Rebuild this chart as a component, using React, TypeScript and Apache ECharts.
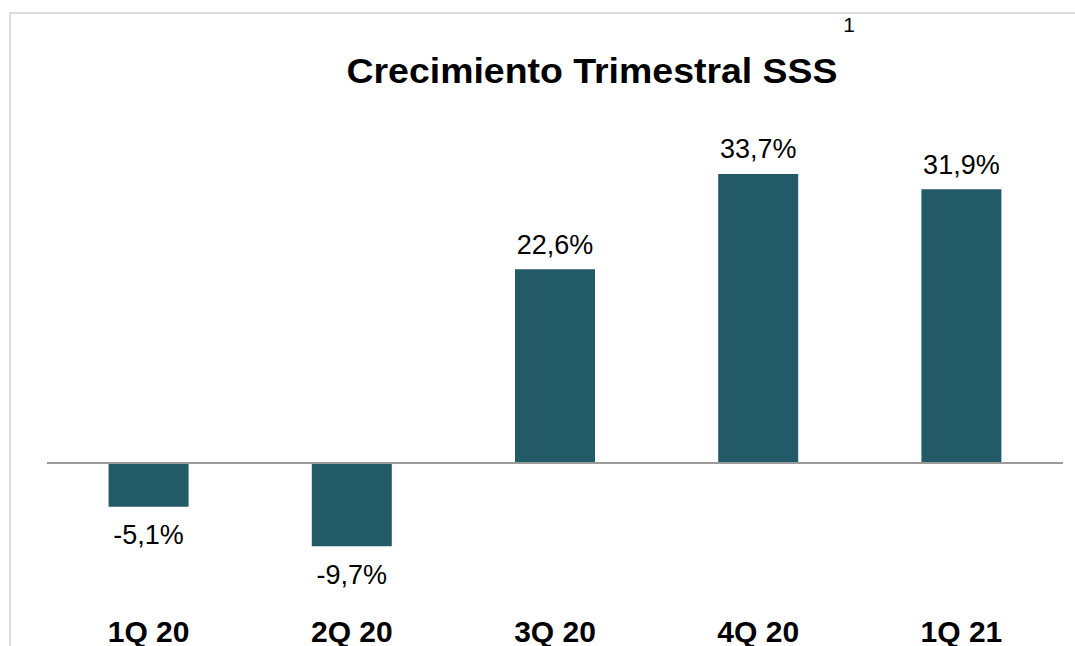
import React, { useEffect, useRef } from "react";
import * as echarts from "echarts";

const categories = ["1Q 20", "2Q 20", "3Q 20", "4Q 20", "1Q 21"];
const sssGrowth = [-5.1, -9.7, 22.6, 33.7, 31.9];
const chartTitle = "Crecimiento Trimestral SSS";
const footnoteMark = "1";

const FONT = '"Liberation Sans", Arial, sans-serif';
const BAR_COLOR = "#235a68";

export default function App() {
  const ref = useRef<HTMLDivElement>(null);

  useEffect(() => {
    if (!ref.current) return;
    const chart = echarts.init(ref.current, null, { renderer: "svg" });
    const fmt = (v: number) => v.toFixed(1).replace(".", ",") + "%";
    chart.setOption({
      animation: false,
      backgroundColor: "#ffffff",
      textStyle: { fontFamily: FONT },
      grid: { left: 47, right: 12, top: 154.2, bottom: 78.7, containLabel: false },
      xAxis: {
        type: "category",
        data: categories,
        position: "bottom",
        axisLine: { show: false, onZero: false },
        axisTick: { show: false },
        axisLabel: {
          color: "#000",
          fontFamily: FONT,
          fontWeight: "bold",
          fontSize: 30,
          margin: 50,
        },
      },
      yAxis: {
        type: "value",
        min: -12,
        max: 36,
        show: false,
        splitLine: { show: false },
      },
      series: [
        {
          type: "bar",
          data: sssGrowth.map((v) => ({
            value: v,
            label: {
              position: v >= 0 ? "top" : "bottom",
              distance: v >= 0 ? 11 : 15,
            },
          })),
          barWidth: 80,
          itemStyle: { color: BAR_COLOR },
          label: {
            show: true,
            color: "#000",
            fontFamily: FONT,
            fontSize: 27,
            formatter: (p: any) => fmt(p.value),
          },
          markLine: {
            silent: true,
            symbol: "none",
            label: { show: false },
            lineStyle: { color: "#9b9b9b", width: 2, type: "solid" },
            data: [{ yAxis: 0 }],
          },
        },
      ],
      graphic: [
        {
          type: "line",
          shape: { x1: 9, y1: 13, x2: 1075, y2: 13 },
          style: { stroke: "#dcdcdc", lineWidth: 2 },
        },
        {
          type: "line",
          shape: { x1: 10, y1: 12, x2: 10, y2: 646 },
          style: { stroke: "#dcdcdc", lineWidth: 2 },
        },
        {
          type: "text",
          x: 592,
          y: 71,
          scaleX: 1.07,
          style: {
            text: chartTitle,
            font: `bold 35px ${FONT}`,
            fill: "#000",
            align: "center",
            verticalAlign: "middle",
          },
        },
        {
          type: "text",
          x: 849,
          y: 24,
          style: {
            text: footnoteMark,
            font: `21px ${FONT}`,
            fill: "#000",
            align: "center",
            verticalAlign: "middle",
          },
        },
      ],
    });
    return () => chart.dispose();
  }, []);

  return (
    <div
      ref={ref}
      style={{ position: "fixed", left: 0, top: 0, width: 1075, height: 646, background: "#fff" }}
    />
  );
}
